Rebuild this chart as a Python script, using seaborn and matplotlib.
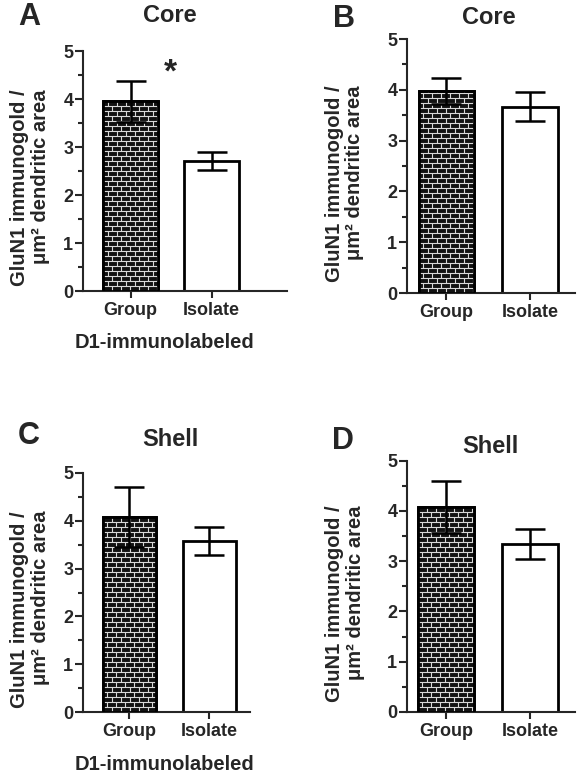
import numpy as np
import pandas as pd
import matplotlib
matplotlib.use("Agg")
import matplotlib.pyplot as plt
import seaborn as sns
from matplotlib.collections import LineCollection
from matplotlib.ticker import MultipleLocator

sns.set_style("ticks")
plt.rcParams['font.family'] = ['Liberation Sans', 'DejaVu Sans']
plt.rcParams['font.weight'] = 'bold'

# data (mean, SEM)
groups = ["Group", "Isolate"]
core_d1_mean = [3.95, 2.71]
core_d1_sem = [0.42, 0.19]
core_b_mean = [3.98, 3.67]
core_b_sem = [0.25, 0.28]
shell_d1_mean = [4.07, 3.58]
shell_d1_sem = [0.63, 0.29]
shell_d_mean = [4.08, 3.35]
shell_d_sem = [0.51, 0.30]

panels = [
    # letter, title, means, sems, rect px (l, t, r, b), xlim, xlabel, ylabel offset px
    ("A", "Core", core_d1_mean, core_d1_sem, (83, 51, 287, 291), (-0.586, 1.93), True, 33),
    ("B", "Core", core_b_mean, core_b_sem, (407, 39, 575, 293), (-0.473, 1.539), False, 43),
    ("C", "Shell", shell_d1_mean, shell_d1_sem, (83, 472.7, 250, 712.3), (-0.58, 1.506), True, 33),
    ("D", "Shell", shell_d_mean, shell_d_sem, (407, 460.7, 575, 712), (-0.464, 1.536), False, 42),
]
# letter / title pixel positions
letter_pos = {"A": (29, 17), "B": (344, 19), "C": (29, 436), "D": (343, 441)}
title_pos = {"A": (170, 15), "B": (489, 18), "C": (170, 439), "D": (490, 447)}

W, H = 577, 780
fig = plt.figure(figsize=(W / 100, H / 100), dpi=100)


def brick(ax, patch, row_px=5.0, brick_px=9.0):
    # light mortar lines in a staggered brick layout, clipped to the bar
    x0, y0 = patch.get_x(), patch.get_y()
    x1, y1 = x0 + patch.get_width(), y0 + patch.get_height()
    bb = ax.get_window_extent()
    xr = ax.get_xlim()
    ppx = bb.width / (xr[1] - xr[0])
    ppy = bb.height / 5.0
    dy = row_px / ppy
    dx = brick_px / ppx
    segs = []
    y = y0
    k = 0
    while y < y1:
        segs.append([(x0, y), (x1, y)])
        off = 0 if k % 2 == 0 else dx / 2
        x = x0 + off
        while x < x1:
            segs.append([(x, y), (x, y + dy)])
            x += dx
        y += dy
        k += 1
    lc = LineCollection(segs, colors="#d8d8d8", linewidths=0.8, zorder=3)
    ax.add_collection(lc)
    lc.set_clip_path(patch)


for letter, title, means, sems, (l, t, r, b), xlim, has_xlabel, yoff in panels:
    ax = fig.add_axes([l / W, 1 - b / H, (r - l) / W, (b - t) / H])
    df = pd.DataFrame({"group": groups, "value": means})
    sns.barplot(data=df, x="group", y="value", ax=ax, width=0.67,
                color="white", edgecolor="black", linewidth=2.0,
                errorbar=None, zorder=2)
    ax.set_xlim(*xlim)
    ax.set_ylim(0, 5)
    bars = ax.patches
    bars[0].set_facecolor("#111111")
    bars[1].set_facecolor("white")
    brick(ax, bars[0])
    outline = plt.Rectangle((bars[0].get_x(), 0), bars[0].get_width(), bars[0].get_height(),
                            fill=False, edgecolor="black", linewidth=2.0, zorder=4)
    ax.add_patch(outline)
    ax.errorbar([0, 1], means, yerr=sems, fmt="none", ecolor="black",
                elinewidth=1.8, capsize=11, capthick=1.8, zorder=5)

    sns.despine(ax=ax)
    ax.spines["left"].set_linewidth(1.5)
    ax.spines["bottom"].set_linewidth(1.5)
    ax.yaxis.set_major_locator(MultipleLocator(1))
    ax.yaxis.set_minor_locator(MultipleLocator(0.5))
    ax.tick_params(axis="y", which="major", length=6, width=1.5, labelsize=13, pad=1)
    ax.tick_params(axis="y", which="minor", length=3.5, width=1.5)
    ax.tick_params(axis="x", which="major", length=5, width=1.5, labelsize=13, pad=3)
    for lab in ax.get_xticklabels() + ax.get_yticklabels():
        lab.set_fontweight("bold")
    ax.set_xlabel("")
    ax.set_ylabel("GluN1 immunogold /\nμm² dendritic area", fontsize=14.5,
                  fontweight="bold", linespacing=1.1, multialignment="right")
    ax.yaxis.set_label_coords(-yoff / (r - l), 0.43)

    lx, ly = letter_pos[letter]
    fig.text(lx / W, 1 - ly / H, letter, fontsize=22, fontweight="bold",
             ha="center", va="center")
    tx, ty = title_pos[letter]
    fig.text(tx / W, 1 - ty / H, title, fontsize=17, fontweight="bold",
             ha="center", va="center")
    if has_xlabel:
        fig.text(164 / W, 1 - (b + 52) / H, "D1-immunolabeled", fontsize=14.5,
                 fontweight="bold", ha="center", va="center")
    if letter == "A":
        fig.text(170 / W, 1 - 73 / H, "*", fontsize=24, fontweight="bold",
                 ha="center", va="center")

fig.savefig("out.png", dpi=100)
